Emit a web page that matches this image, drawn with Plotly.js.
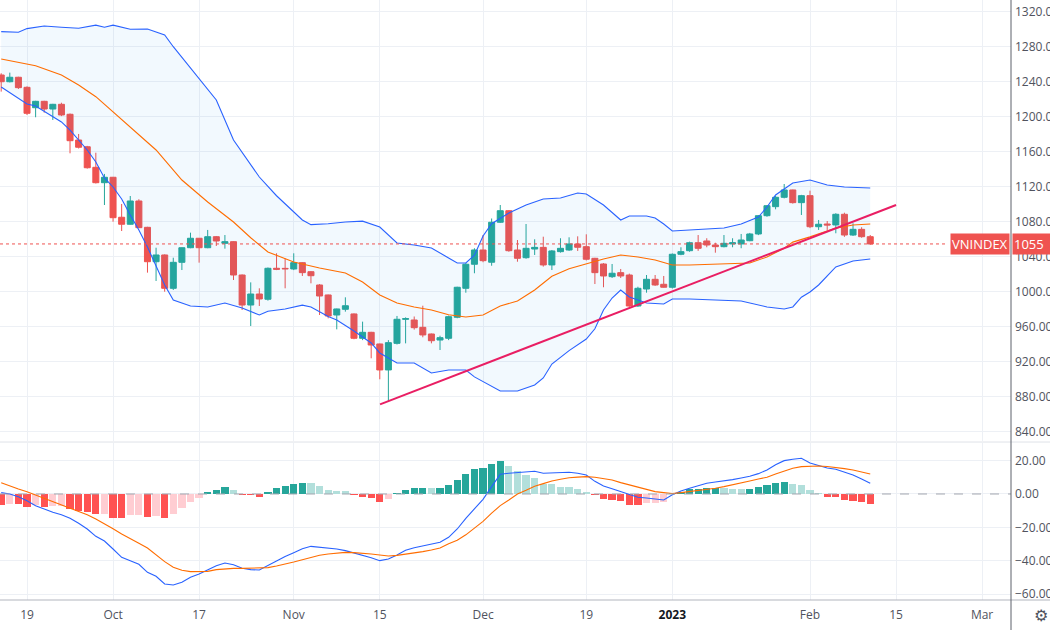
<!DOCTYPE html>
<html><head><meta charset="utf-8">
<script src="https://cdn.plot.ly/plotly-3.0.1.min.js"></script>
<style>html,body{margin:0;padding:0;background:#fff;overflow:hidden}#chart{width:1050px;height:630px}</style>
</head><body><div id="chart"></div>
<script>
// ---- trading days (VNINDEX, daily) ----
const dates = [
'2022-09-14','2022-09-15','2022-09-16','2022-09-19','2022-09-20','2022-09-21','2022-09-22','2022-09-23','2022-09-26','2022-09-27','2022-09-28','2022-09-29','2022-09-30',
'2022-10-03','2022-10-04','2022-10-05','2022-10-06','2022-10-07','2022-10-10','2022-10-11','2022-10-12','2022-10-13','2022-10-14','2022-10-17','2022-10-18','2022-10-19','2022-10-20','2022-10-21','2022-10-24','2022-10-25','2022-10-26','2022-10-27','2022-10-28','2022-10-31',
'2022-11-01','2022-11-02','2022-11-03','2022-11-04','2022-11-07','2022-11-08','2022-11-09','2022-11-10','2022-11-11','2022-11-14','2022-11-15','2022-11-16','2022-11-17','2022-11-18','2022-11-21','2022-11-22','2022-11-23','2022-11-24','2022-11-25','2022-11-28','2022-11-29','2022-11-30',
'2022-12-01','2022-12-02','2022-12-05','2022-12-06','2022-12-07','2022-12-08','2022-12-09','2022-12-12','2022-12-13','2022-12-14','2022-12-15','2022-12-16','2022-12-19','2022-12-20','2022-12-21','2022-12-22','2022-12-23','2022-12-26','2022-12-27','2022-12-28','2022-12-29','2022-12-30',
'2023-01-03','2023-01-04','2023-01-05','2023-01-06','2023-01-09','2023-01-10','2023-01-11','2023-01-12','2023-01-13','2023-01-16','2023-01-17','2023-01-18','2023-01-19','2023-01-27','2023-01-30','2023-01-31',
'2023-02-01','2023-02-02','2023-02-03','2023-02-06','2023-02-07','2023-02-08','2023-02-09','2023-02-10'];

const open = [1248,1240.3,1245.4,1233.9,1210.6,1217.9,1209.1,1214.5,1203.1,1173.7,
1166,1142.5,1124.9,1131.1,1085.4,1077.4,1104,1073.9,1034.6,1042.3,
1004.2,1033.9,1050.6,1061.4,1050.6,1063.2,1055.6,1057.5,1019.4,985.1,
997.7,991.7,1027.1,1027,1026.3,1033.5,1023.2,1008,996.6,973.7,
980.2,974.9,947.1,953.9,940.6,910.9,941.3,968.8,968,959.6,
952,945.1,947.1,971.1,1004.2,1031.7,1048,1034,1079.7,1092.9,
1048,1039.2,1049.1,1051,1030.9,1046.1,1048,1054.9,1051.8,1038.5,
1032,1017.5,1022.1,1019.4,984,1003.4,1014.5,1008.8,1005.4,1043.1,
1047.2,1056.3,1058.3,1053.7,1051.8,1054.9,1054.9,1058.6,1066.3,1087.2,
1097.5,1108.2,1116.6,1102.1,1110.1,1074.6,1077.7,1076.6,1088.8,1065.1,
1071.6,1063.2];
const high = [1250,1250.7,1246,1235,1218.5,1218.5,1215,1216.3,1204,1180.6,
1167,1159.2,1134.9,1131.5,1100.6,1109.7,1106,1074.5,1050.6,1043,
1039.2,1051,1067.8,1061.5,1070.9,1064,1065.1,1058,1020,1011,
1004.2,1028,1044.2,1038.5,1044.2,1034,1024,1009,997,981,
993.9,975.5,966.1,954.5,941,945,972.6,971,972,984.3,
952.5,950,973,1006,1033,1050,1065.1,1084,1099.4,1093.5,
1059.4,1077.7,1060.2,1063.2,1048,1061.4,1062.5,1063.6,1065.9,1039,
1033,1032,1026.3,1021,1006,1019.4,1019.4,1018.3,1044,1051.1,
1057.5,1065.1,1061.4,1056.3,1065.1,1061.4,1066.3,1067.5,1088,1099,
1110,1123.4,1117,1111,1115.8,1082.3,1081.1,1090,1090.6,1078.5,
1074,1065.1];
const low = [1229,1239.5,1232,1202.3,1199.7,1205,1196.6,1201,1158.5,1164,
1141,1124,1099.4,1080.3,1069.7,1077,1073,1022.1,1012.6,1000.3,
1002.3,1025.1,1050,1033.5,1050,1052.6,1049.5,1013.7,979.4,961.1,
984,990.1,1025,1004.2,1025,1018.3,1009.9,973.7,969.9,957.3,
977.5,946,945,924.2,900.2,874.6,940,941.3,957,948.2,
941.3,933.7,945,970,999.2,1021.4,1034,1030,1079,1046,
1034.6,1038,1042.3,1029,1025.1,1045,1047,1046.9,1036,1009.1,
1005.4,1016,1016,983,983,999.2,1007,1005,1004,1042,
1046,1047,1051.1,1044.9,1051,1051.1,1050,1058,1065,1086,
1094.5,1107,1101,1088,1073,1070.9,1070.9,1067.1,1063,1064,
1062,1054];
const close = [1240.3,1245.4,1233.5,1204.2,1217.9,1209.1,1214.5,1202.3,1172.9,1165.4,
1142,1124.9,1131.1,1084.9,1077.4,1104,1073.5,1034.6,1042.3,1004.2,
1033.9,1050.6,1061.4,1050.6,1063.2,1058.3,1057.5,1019.4,985.1,997.7,
992,1027.1,1026,1026.5,1033.5,1022.1,1018.6,995.4,972.6,980.6,
984.3,947.1,953.9,939.4,910.9,942.1,968.8,969.5,959.2,950.9,
944.3,947.8,971.8,1005.4,1031.7,1048,1035.8,1079.7,1092.9,1047.2,
1038.5,1049.9,1051,1030.9,1046.9,1049.9,1054.9,1051.1,1037.4,1022.1,
1018.3,1021.4,1018.3,984,1004.2,1014.5,1008,1005.4,1043.1,1046.1,
1056.3,1049.9,1053.7,1051.8,1055.6,1056.3,1059.4,1066.3,1087.2,1098.6,
1108.2,1116.6,1102.1,1110.1,1074.6,1077.4,1076.6,1088.8,1065.1,1071.6,
1063.2,1054.9];

// ---- Bollinger Bands (at the listed days) ----
const upperDates = ['2022-09-14','2022-09-16','2022-09-19','2022-09-21','2022-09-23','2022-09-27','2022-09-29','2022-09-30','2022-10-03','2022-10-05','2022-10-07','2022-10-11','2022-10-12','2022-10-14','2022-10-17','2022-10-19','2022-10-21','2022-10-26','2022-10-28','2022-11-01','2022-11-02','2022-11-03','2022-11-07','2022-11-09','2022-11-11','2022-11-15','2022-11-16','2022-11-17','2022-11-21','2022-11-23','2022-11-25','2022-11-28','2022-11-29','2022-11-30','2022-12-01','2022-12-02','2022-12-06','2022-12-08','2022-12-12','2022-12-14','2022-12-16','2022-12-19','2022-12-21','2022-12-23','2022-12-26','2022-12-28','2022-12-29','2022-12-30','2023-01-03','2023-01-05','2023-01-11','2023-01-13','2023-01-17','2023-01-18','2023-01-19','2023-01-30','2023-02-01','2023-02-03','2023-02-07','2023-02-10'];
const upperVals = [1297.5,1296.8,1301,1304,1302.5,1301.4,1305,1302.5,1305,1300.2,1300.6,1293.7,1280.3,1255.7,1244.2,1219.4,1173.7,1131.4,1110,1092,1082.3,1077,1078,1080,1081,1074.3,1065,1056,1053.7,1050.3,1038.9,1033.1,1033.1,1042,1064,1078,1090.3,1099.4,1106.3,1107.4,1113.1,1112,1099.4,1082.3,1086.9,1086.9,1084.6,1077.7,1069.7,1070.9,1073.1,1077.7,1085.7,1097.1,1110.9,1124.6,1128,1122.3,1120,1118.9];

const basisDates = ['2022-09-14','2022-09-20','2022-09-23','2022-09-27','2022-09-29','2022-10-03','2022-10-05','2022-10-10','2022-10-13','2022-10-18','2022-10-21','2022-10-25','2022-10-27','2022-11-01','2022-11-04','2022-11-09','2022-11-11','2022-11-15','2022-11-17','2022-11-21','2022-11-23','2022-11-25','2022-11-29','2022-12-01','2022-12-05','2022-12-07','2022-12-09','2022-12-13','2022-12-15','2022-12-19','2022-12-21','2022-12-23','2022-12-27','2022-12-29','2023-01-03','2023-01-05','2023-01-11','2023-01-16','2023-01-18','2023-01-27','2023-01-30','2023-02-01','2023-02-06','2023-02-08','2023-02-10'];
const basisVals = [1266.3,1258.6,1248,1236.6,1223.2,1206,1188.6,1162.3,1128,1102.9,1080,1062,1045.7,1034.3,1027.4,1021.7,1011.4,996.6,987.4,982.9,979.4,974,971.4,973.7,984,989.7,1002.3,1018,1026.5,1032,1037.7,1042.3,1040,1036.6,1030.9,1030.9,1032,1033.1,1040,1050,1057,1063,1073,1076.6,1077.7];

const lowerDates = ['2022-09-14','2022-09-19','2022-09-20','2022-09-23','2022-09-26','2022-09-28','2022-09-29','2022-09-30','2022-10-03','2022-10-04','2022-10-05','2022-10-06','2022-10-07','2022-10-10','2022-10-11','2022-10-12','2022-10-14','2022-10-18','2022-10-20','2022-10-24','2022-10-26','2022-10-27','2022-10-31','2022-11-02','2022-11-03','2022-11-07','2022-11-08','2022-11-10','2022-11-14','2022-11-15','2022-11-17','2022-11-21','2022-11-23','2022-11-25','2022-11-29','2022-11-30','2022-12-02','2022-12-05','2022-12-07','2022-12-09','2022-12-12','2022-12-13','2022-12-15','2022-12-19','2022-12-20','2022-12-21','2022-12-22','2022-12-23','2022-12-26','2022-12-28','2022-12-30','2023-01-03','2023-01-05','2023-01-13','2023-01-18','2023-01-27','2023-01-30','2023-01-31','2023-02-01','2023-02-02','2023-02-06','2023-02-08','2023-02-10'];
const lowerVals = [1234.3,1214.9,1212.6,1194.3,1185.1,1162.3,1148.6,1130.3,1120,1106.3,1088,1070.9,1051.4,1029.7,1008,990.9,984,982.9,987.4,981.7,973.7,978,980.6,985,982.9,972,968,955.4,941.7,930.3,918.9,918.9,907.4,910.9,910.9,903,892.6,886.9,886.9,893.7,901.7,917.7,933,946.3,958,979.4,993.1,1002.3,994.3,987.4,986.3,992,992,989.7,982.9,980.6,982.9,994,1000,1008,1028.6,1035.4,1037.7];

// ---- Trend line drawn on the chart ----
const trendX = ['2022-11-15 12:40','2023-02-15 12:00'];
const trendY = [871.6, 1099.4];

// ---- MACD pane ----
const macdHist = [-6.6,-6.0,-6.2,-7.6,-6.6,-8.0,-7.2,-7.0,-9.0,-10.0,
-10.6,-12.2,-12.0,-14.2,-14.7,-12.8,-12.6,-13.6,-13.0,-14.2,
-12.2,-8.6,-4.6,-2.6,1.0,2.4,4.0,2.4,-0.4,-0.8,
-1.6,1.2,3.4,4.8,6.0,6.6,6.5,4.8,2.4,1.6,
1.5,-0.8,-1.6,-2.6,-4.6,-3.2,0.4,2.4,3.4,3.5,
3.3,3.6,5.4,8.4,12.0,15.0,15.6,17.8,19.8,16.8,
13.8,11.6,9.6,5.8,5.7,4.4,4.0,3.0,1.4,-0.8,
-3.2,-3.6,-4.0,-6.8,-6.9,-5.6,-5.5,-4.6,0.4,1.4,
2.8,3.2,3.4,3.5,3.3,2.9,2.8,2.9,4.4,5.4,
6.4,7.0,6.0,5.4,2.4,0.5,-1.6,-1.7,-3.6,-4.0,
-5.0,-6.2];
const macdLine = [0.8,0,-1.6,-4,-7,-9,-11,-12.5,-14.6,-17.6,
-21,-25.4,-28.2,-33,-38,-40,-42.2,-47,-49.4,-54,
-54.6,-53,-50,-48,-45.5,-43,-41.4,-42.5,-44.6,-45.4,
-45.6,-42.8,-39.8,-37.5,-35.2,-32.8,-31.4,-31.8,-32.6,-33,
-34,-35.4,-36.4,-38.2,-40,-39,-36.6,-33.8,-32.2,-31,
-30,-29,-26,-21,-14.6,-8.6,-3.2,4.4,11.8,12.4,
12.8,13.4,13.6,12.4,12.6,12.8,13,12.4,11.4,7.6,
4.8,3.2,1.4,-0.4,-2,-2.4,-3,-3.6,-0.5,1.8,
3.4,5,6.4,7.2,7.8,8.6,9.6,10.6,12.2,14.4,
17.5,20,20.8,21.4,18.6,17,15.6,14.8,13.2,11.4,
9,6.4];
const signalLine = [6.8,4.8,3,1.4,-0.6,-2.4,-4.4,-6.4,-8.2,-10.4,
-12.5,-15,-17.8,-20.8,-24,-27,-29.6,-32.4,-36.4,-40.6,
-44,-45.8,-46.6,-46.6,-46.4,-45.4,-44.8,-44.6,-44.6,-44.6,
-44.6,-44.2,-43.2,-42.2,-40.8,-39.4,-38,-36.8,-36,-35.3,
-35,-35.2,-35.5,-36,-36.6,-37.2,-36.8,-36.2,-35.4,-34.6,
-33.6,-32.4,-29.8,-27.8,-24.5,-20.5,-16.4,-11.5,-7,-3.6,
0,2.2,4.6,6.2,7.8,8.8,9.7,10.1,10.4,10,
9.3,8.4,6.8,5.4,3.8,2.6,1.4,0.8,0.3,0.8,
1.4,1.8,2.6,3.4,4.4,5.4,6.6,7.8,9,10,
12,13.6,15.4,16.4,16.8,16.8,16.5,16,15.2,14.4,
13.2,12];

// ---- axis ticks ----
const tickDates = ['2022-09-19','2022-10-03','2022-10-17','2022-11-01','2022-11-15','2022-12-01','2022-12-19','2023-01-03','2023-02-01','2023-02-15','2023-03-01'];
const tickLabels = ['19','Oct','17','Nov','15','Dec','19','<b style="color:#131722">2023</b>','Feb','15','Mar'];
const symbol = 'VNINDEX';

// ---- build ----
const noon = d => d + ' 12:00';
const UP = '#26a69a', DOWN = '#ef5350', BLUE = '#2962ff', ORANGE = '#ff6d00';
const GRID = '#edf0f5';

const histColors = macdHist.map((v, i) => {
  const prev = i > 0 ? macdHist[i - 1] : 0;
  if (v >= 0) return v >= prev ? '#26a69a' : '#b2dfdb';
  return v < prev ? '#ff5252' : '#ffcdd2';
});

const traces = [
  {type:'candlestick', x:dates.map(noon), open:open, high:high, low:low, close:close,
   xaxis:'x', yaxis:'y',
   increasing:{line:{color:UP, width:1}, fillcolor:UP},
   decreasing:{line:{color:DOWN, width:1}, fillcolor:DOWN},
   whiskerwidth:0, hoverinfo:'skip'},
  {type:'scatter', mode:'lines', x:upperDates.map(noon), y:upperVals, xaxis:'x', yaxis:'y',
   line:{color:BLUE, width:1.1}, hoverinfo:'skip'},
  {type:'scatter', mode:'lines', x:lowerDates.map(noon), y:lowerVals, xaxis:'x', yaxis:'y',
   line:{color:BLUE, width:1.1}, fill:'tonexty', fillcolor:'rgba(33,150,243,0.06)', hoverinfo:'skip'},
  {type:'scatter', mode:'lines', x:basisDates.map(noon), y:basisVals, xaxis:'x', yaxis:'y',
   line:{color:ORANGE, width:1.1}, hoverinfo:'skip'},
  {type:'scatter', mode:'lines', x:trendX, y:trendY, xaxis:'x', yaxis:'y',
   line:{color:'#e91e63', width:2}, hoverinfo:'skip'},
  {type:'bar', x:dates.map(noon), y:macdHist, xaxis:'x', yaxis:'y2',
   marker:{color:histColors, line:{width:0}}, width:dates.map(() => 0.84 * 86400000), hoverinfo:'skip'},
  {type:'scatter', mode:'lines', x:dates.map(noon), y:macdLine, xaxis:'x', yaxis:'y2',
   line:{color:BLUE, width:1.1}, hoverinfo:'skip'},
  {type:'scatter', mode:'lines', x:dates.map(noon), y:signalLine, xaxis:'x', yaxis:'y2',
   line:{color:ORANGE, width:1.1}, hoverinfo:'skip'}
];

const last = close[close.length - 1];
const PR = 1011; // plot right edge in px

const layout = {
  width:1050, height:630,
  margin:{l:0, r:1050 - PR, t:0, b:30, pad:0},
  paper_bgcolor:'#ffffff', plot_bgcolor:'#ffffff',
  showlegend:false, hovermode:false, dragmode:false,
  boxgap:0, boxgroupgap:0.3, bargap:0,
  font:{family:'Open Sans, sans-serif', size:12, color:'#50535e'},
  xaxis:{type:'date', anchor:'y2',
    range:['2022-09-14 08:40','2023-03-06 20:38'],
    rangebreaks:[{bounds:['sat','mon']},
                 {values:['2023-01-02','2023-01-20','2023-01-23','2023-01-24','2023-01-25','2023-01-26']}],
    tickmode:'array', tickvals:tickDates.map(noon), ticktext:tickLabels,
    showgrid:true, gridcolor:GRID, gridwidth:1, zeroline:false, showline:false, ticks:'',
    ticklabelstandoff:6,
    rangeslider:{visible:false}, fixedrange:true,
    tickfont:{size:12, color:'#50535e'}},
  yaxis:{domain:[0.265, 1], anchor:'x', side:'right', range:[829.7, 1333.7],
    tick0:0, dtick:40, tickformat:'.2f', showgrid:true, gridcolor:GRID,
    zeroline:false, showline:false, ticks:'', ticklabelstandoff:3, fixedrange:true,
    tickfont:{size:12, color:'#50535e'}},
  yaxis2:{domain:[0, 0.2617], anchor:'x', side:'right', range:[-63.6, 30.6],
    tick0:0, dtick:20, tickformat:'.2f', showgrid:true, gridcolor:GRID,
    zeroline:false, showline:false, ticks:'', ticklabelstandoff:3, fixedrange:true,
    tickfont:{size:12, color:'#50535e'}},
  shapes:[
    {type:'line', xref:'paper', yref:'y', x0:0, x1:948/PR, y0:last, y1:last,
     line:{color:DOWN, width:1, dash:'dot'}},
    {type:'line', xref:'paper', yref:'y2', x0:0, x1:1, y0:0, y1:0,
     line:{color:'#a3a6af', width:1, dash:'dash'}},
    {type:'line', xref:'paper', yref:'paper', x0:0, x1:1.05, y0:0.2633, y1:0.2633,
     line:{color:'#dfe2e8', width:1}},
    {type:'line', xref:'paper', yref:'paper', x0:0, x1:1.05, y0:0, y1:0,
     line:{color:'#b2b5be', width:1}},
    {type:'line', xref:'paper', yref:'paper', x0:1, x1:1, y0:-0.06, y1:1,
     line:{color:'#5d606b', width:1}}
  ],
  annotations:[
    {xref:'paper', yref:'y', x:1, y:last, xanchor:'right', yanchor:'middle', xshift:-1,
     text:symbol, showarrow:false, bgcolor:DOWN, borderpad:1,
     font:{color:'#ffffff', size:13, family:'Open Sans, sans-serif'}},
    {xref:'paper', yref:'y', x:1, y:last, xanchor:'left', yanchor:'middle', xshift:1,
     text:String(Math.round(last)), showarrow:false, bgcolor:DOWN, borderpad:1, width:44, align:'left',
     font:{color:'#ffffff', size:13, family:'Open Sans, sans-serif'}},
    {xref:'paper', yref:'paper', x:1, y:0, xanchor:'center', yanchor:'middle', xshift:30, yshift:-15,
     text:'⚙', showarrow:false, font:{color:'#50535e', size:16, family:'DejaVu Sans'}}
  ]
};

Plotly.newPlot('chart', traces, layout, {staticPlot:true, displayModeBar:false});
</script>
</body></html>
